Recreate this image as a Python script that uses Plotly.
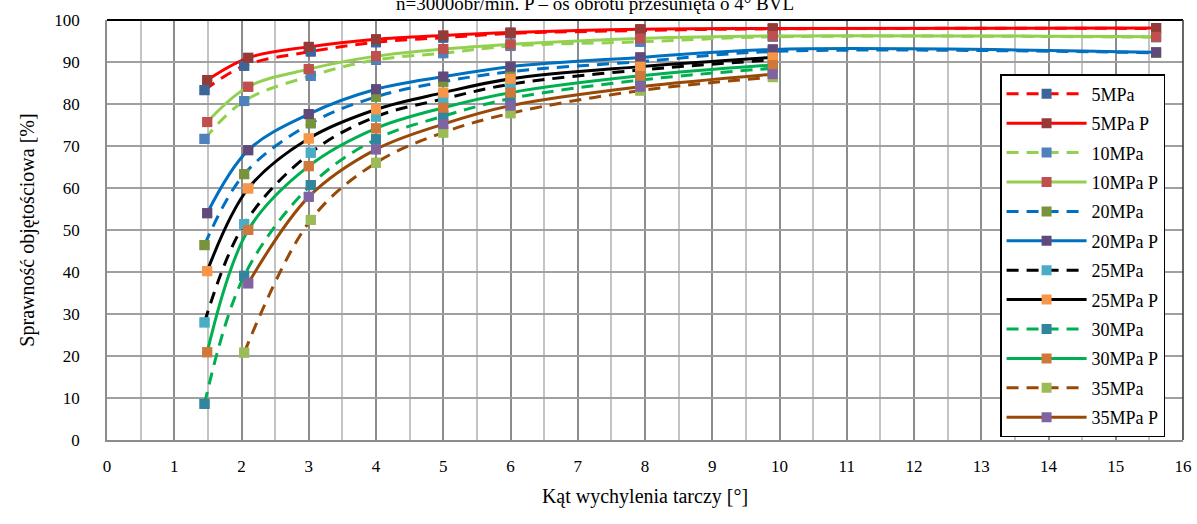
import plotly.graph_objects as go

# ---- data ----
x_base = [1.45, 2.04, 3.03, 4.0, 5.0, 6.0, 7.93, 9.9, 15.6]
x_base_p = [1.49, 2.10, 3.0, 4.0, 5.0, 6.0, 7.93, 9.9, 15.6]

series_names = ["5MPa", "5MPa P", "10MPa", "10MPa P", "20MPa", "20MPa P",
                "25MPa", "25MPa P", "30MPa", "30MPa P", "35MPa", "35MPa P"]

x_5 = x_base
y_5 = [83.3, 89.1, 92.5, 94.7, 95.8, 96.8, 97.5, 97.9, 98.0]
x_5p = x_base_p
y_5p = [85.7, 91.0, 93.6, 95.4, 96.3, 97.0, 97.8, 98.0, 98.1]
x_10 = x_base
y_10 = [71.7, 80.7, 86.7, 90.5, 92.1, 93.8, 94.8, 96.0, 95.9]
x_10p = x_base_p
y_10p = [75.7, 84.1, 88.3, 91.4, 93.1, 94.2, 95.6, 96.2, 96.0]
x_20 = x_base
y_20 = [46.4, 63.3, 75.4, 81.7, 85.3, 87.7, 90.1, 92.5, 92.2]
x_20p = x_base_p
y_20p = [54.0, 69.0, 77.6, 83.5, 86.5, 88.9, 91.1, 93.0, 92.3]
x_25 = x_base[:8]
y_25 = [28.0, 51.4, 68.4, 77.0, 81.2, 84.7, 88.1, 90.5]
x_25p = x_base_p[:8]
y_25p = [40.2, 59.9, 71.8, 78.7, 82.7, 86.0, 88.9, 91.1]
x_30 = x_base[:8]
y_30 = [8.6, 39.1, 60.7, 71.6, 77.1, 81.3, 85.7, 88.5]
x_30p = x_base_p[:8]
y_30p = [20.9, 50.0, 65.2, 74.2, 79.1, 82.7, 86.7, 89.3]
x_35 = x_base[1:8]
y_35 = [20.8, 52.4, 66.0, 73.2, 77.8, 83.2, 86.4]
x_35p = x_base_p[1:8]
y_35p = [37.3, 57.9, 69.2, 75.2, 79.6, 84.1, 87.1]

xs = [x_5, x_5p, x_10, x_10p, x_20, x_20p, x_25, x_25p, x_30, x_30p, x_35, x_35p]
ys = [y_5, y_5p, y_10, y_10p, y_20, y_20p, y_25, y_25p, y_30, y_30p, y_35, y_35p]

line_colors = ["#FF0000", "#FF0000", "#92D050", "#92D050", "#0070C0", "#0070C0",
               "#000000", "#000000", "#00B050", "#00B050", "#984807", "#984807"]
marker_colors = ["#3C6699", "#953A37", "#4F81BD", "#C0504D", "#77933C", "#604A7B",
                 "#4BACC6", "#F79646", "#31859C", "#D0773A", "#9BBB59", "#8064A2"]
dashes = ["12px,8px", "solid"] * 6

FONT = "Liberation Serif"

fig = go.Figure()
for i, name in enumerate(series_names):
    fig.add_trace(go.Scatter(
        x=xs[i], y=ys[i], name=name, mode="lines+markers",
        line=dict(color=line_colors[i], width=3, dash=dashes[i], shape="spline", smoothing=1.0),
        marker=dict(symbol="square", size=10, color=marker_colors[i]),
        legendgroup=name,
    ))
# markers on top of all lines
for i, name in enumerate(series_names):
    fig.add_trace(go.Scatter(
        x=xs[i], y=ys[i], mode="markers", showlegend=False, hoverinfo="skip",
        marker=dict(symbol="square", size=10, color=marker_colors[i]),
    ))

fig.update_layout(
    width=1197, height=524,
    margin=dict(l=107, r=14, t=20, b=84, autoexpand=False),
    paper_bgcolor="white", plot_bgcolor="white",
    font=dict(family=FONT, size=17, color="black"),
    showlegend=True,
    legend=dict(
        x=0.83, y=0.439, xanchor="left", yanchor="middle",
        bgcolor="white", bordercolor="black", borderwidth=1.5,
        font=dict(family=FONT, size=18, color="black"),
        itemwidth=80, tracegroupgap=3, traceorder="grouped",
    ),
    xaxis=dict(
        range=[0, 16], dtick=1, tick0=0, automargin=False,
        showgrid=True, gridcolor="#8C8C8C", gridwidth=1.5,
        minor=dict(dtick=0.5, showgrid=True, gridcolor="#C4C4C4", gridwidth=1.5),
        showline=True, linecolor="#8C8C8C", linewidth=1.5,
        zeroline=False, ticks="", ticklabelstandoff=10,
        title=dict(text="Kąt wychylenia tarczy [°]", font=dict(family=FONT, size=20), standoff=14),
    ),
    yaxis=dict(
        range=[0, 100], dtick=10, tick0=0, automargin=False,
        showgrid=True, gridcolor="#A0A0A0", gridwidth=1.5,
        showline=True, linecolor="#8C8C8C", linewidth=1.5,
        zeroline=False, ticks="", ticklabelstandoff=22,
        title=dict(text="Sprawność objętościowa [%]", font=dict(family=FONT, size=20), standoff=14),
    ),
    shapes=[
        dict(type="line", xref="paper", yref="paper", x0=0, x1=1, y0=1, y1=1,
             line=dict(color="black", width=2)),
        dict(type="line", xref="paper", yref="paper", x0=1, x1=1, y0=0, y1=1,
             line=dict(color="#333333", width=1.5)),
    ],
    annotations=[
        dict(text="n=3000obr/min. P – oś obrotu przesunięta o 4° BVL",
             xref="paper", yref="paper", x=0.4535, y=1, yshift=17,
             xanchor="center", yanchor="middle", showarrow=False,
             font=dict(family=FONT, size=19, color="black")),
    ],
)

fig.write_html("out.html", config={"displayModeBar": False},
               post_script="document.body.style.margin='0px';document.body.style.padding='0px';")
